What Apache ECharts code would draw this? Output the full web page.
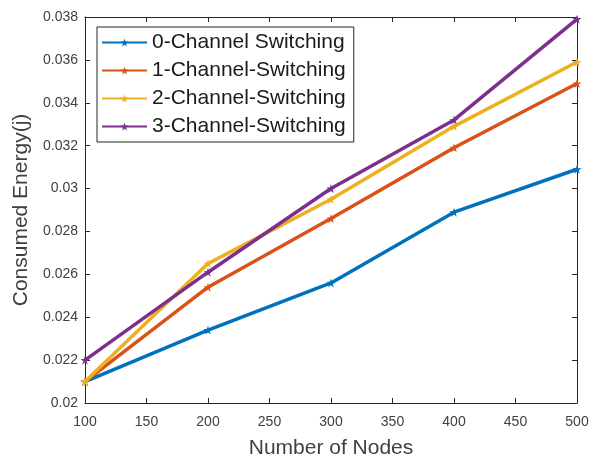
<!DOCTYPE html>
<html>
<head>
<meta charset="utf-8">
<script src="https://cdn.jsdelivr.net/npm/echarts@6/dist/echarts.min.js"></script>
<style>
  html, body { margin: 0; padding: 0; background: #fff; }
  #chart { width: 595px; height: 456px; }
</style>
</head>
<body>
<div id="chart"></div>
<script>
// Network sizes and measured energy per switching mode
var nodes = [100, 200, 300, 400, 500];
var seriesNames = ['0-Channel Switching', '1-Channel-Switching', '2-Channel-Switching', '3-Channel-Switching'];
var energy0 = [0.0210, 0.0234, 0.0256, 0.0289, 0.0309];
var energy1 = [0.0210, 0.0254, 0.0286, 0.0319, 0.0349];
var energy2 = [0.0210, 0.0265, 0.0295, 0.0329, 0.0359];
var energy3 = [0.0220, 0.0261, 0.0300, 0.0332, 0.0379];
var colors = ['#0072BD', '#D95319', '#EDB120', '#7E2F8E'];

var allEnergy = [energy0, energy1, energy2, energy3];
var axisColor = '#262626';
var textColor = '#404040';
var fontFamily = '"Liberation Sans", Arial, sans-serif';
var starPath = 'path://M50,0 L61,35 L97,35 L68,57 L79,91 L50,70 L21,91 L32,57 L3,35 L39,35 Z';

var chart = echarts.init(document.getElementById('chart'), null, { renderer: 'canvas' });

var series = allEnergy.map(function (vals, i) {
  return {
    name: seriesNames[i],
    type: 'line',
    data: nodes.map(function (n, j) { return [n, vals[j]]; }),
    symbol: starPath,
    symbolSize: 9,
    showAllSymbol: true,
    lineStyle: { width: 3.5, color: colors[i] },
    itemStyle: { color: colors[i] },
    emphasis: { disabled: true },
    z: 2 + i
  };
});

function fmt(v) { return String(Number(v.toFixed(3))); }

chart.setOption({
  animation: false,
  backgroundColor: '#fff',
  textStyle: { fontFamily: fontFamily },
  grid: { left: 85, right: 18, top: 17, bottom: 53, containLabel: false, outerBoundsMode: 'none' },
  legend: {
    orient: 'vertical',
    left: 97,
    top: 27,
    data: seriesNames,
    itemWidth: 45,
    itemHeight: 10,
    itemGap: 7,
    padding: [5, 8, 5, 4],
    borderColor: axisColor,
    borderWidth: 1,
    backgroundColor: '#fff',
    textStyle: { fontSize: 21, lineHeight: 21, color: '#1a1a1a', fontFamily: fontFamily }
  },
  xAxis: [{
    type: 'value',
    min: 100, max: 500, interval: 50,
    name: 'Number of Nodes',
    nameLocation: 'middle',
    nameGap: 35,
    nameTextStyle: { fontSize: 21, color: textColor, fontFamily: fontFamily },
    axisLine: { show: true, lineStyle: { color: axisColor, width: 1 } },
    axisTick: { show: true, inside: true, length: 5, lineStyle: { color: axisColor } },
    axisLabel: { fontSize: 14, color: textColor, margin: 12, fontFamily: fontFamily },
    splitLine: { show: false }
  }, {
    type: 'value', position: 'top',
    min: 100, max: 500, interval: 50,
    axisLine: { show: true, lineStyle: { color: axisColor, width: 1 } },
    axisTick: { show: true, inside: true, length: 5, lineStyle: { color: axisColor } },
    axisLabel: { show: false },
    splitLine: { show: false }
  }],
  yAxis: [{
    type: 'value',
    min: 0.02, max: 0.038, interval: 0.002,
    name: 'Consumed Energy(j)',
    nameLocation: 'middle',
    nameGap: 47,
    nameTextStyle: { fontSize: 21, color: textColor, fontFamily: fontFamily },
    axisLine: { show: true, lineStyle: { color: axisColor, width: 1 } },
    axisTick: { show: true, inside: true, length: 5, lineStyle: { color: axisColor } },
    axisLabel: { fontSize: 14, color: textColor, margin: 7, fontFamily: fontFamily, formatter: fmt },
    splitLine: { show: false }
  }, {
    type: 'value', position: 'right',
    min: 0.02, max: 0.038, interval: 0.002,
    axisLine: { show: true, lineStyle: { color: axisColor, width: 1 } },
    axisTick: { show: true, inside: true, length: 5, lineStyle: { color: axisColor } },
    axisLabel: { show: false },
    splitLine: { show: false }
  }],
  series: series
});
</script>
</body>
</html>
